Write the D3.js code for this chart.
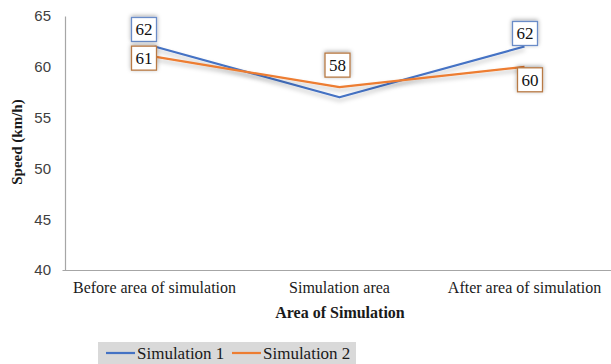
<!DOCTYPE html>
<html>
<head>
<meta charset="utf-8">
<script src="https://cdn.jsdelivr.net/npm/d3@7"></script>
<style>
  body { margin: 0; background: #fff; }
  svg { display: block; }
  .serif { font-family: "Liberation Serif", "Times New Roman", serif; }
  .sans { font-family: "Liberation Sans", Arial, sans-serif; }
</style>
</head>
<body>
<svg id="chart" width="611" height="364"></svg>
<script>
// data
var categories = ["Before area of simulation", "Simulation area", "After area of simulation"]
var sim1 = [62, 57, 62]
var sim2 = [61, 58, 60]
var yTicks = [40, 45, 50, 55, 60, 65]
var seriesNames = ["Simulation 1", "Simulation 2"]

var width = 611, height = 364
var svg = d3.select('#chart').attr("viewBox", [0, 0, width, height])

var colors = ["#4472c4", "#ed7d31"]
var boxColors = ["#6a8cc8", "#b87a45"]

var x = d3.scaleBand()
    .domain(categories)
    .range([62, 617])
var y = d3.scaleLinear()
    .domain([40, 65])
    .range([270, 16])
var cx = c => x(c) + x.bandwidth() / 2

// filters for the soft shadows
var defs = svg.append("defs")
defs.append("filter").attr("id", "lineShadow")
    .attr("x", "-10%").attr("y", "-50%").attr("width", "120%").attr("height", "200%")
    .append("feDropShadow")
    .attr("dx", 0).attr("dy", 3).attr("stdDeviation", 2)
    .attr("flood-color", "#000").attr("flood-opacity", 0.25)
defs.append("filter").attr("id", "boxShadow")
    .attr("x", "-50%").attr("y", "-50%").attr("width", "200%").attr("height", "200%")
    .append("feDropShadow")
    .attr("dx", 0).attr("dy", -1).attr("stdDeviation", 2)
    .attr("flood-color", "#000").attr("flood-opacity", 0.35)

// y axis
var yAxis = g => g
    .attr("transform", "translate(65,0)")
    .call(d3.axisLeft(y).tickValues(yTicks).tickSize(0).tickPadding(14))
    .attr("font-family", null)
    .call(g => g.select(".domain").attr("stroke", "#a6a6a6").attr("stroke-width", 1.2))
    .call(g => g.selectAll("text")
        .attr("class", "sans")
        .attr("font-size", 15)
        .attr("fill", "#404040"))
svg.append("g").call(yAxis)

// x axis
var xAxis = g => g
    .attr("transform", "translate(0,270)")
    .call(d3.axisBottom(x).tickSize(0).tickPadding(12).tickSizeOuter(0))
    .attr("font-family", null)
    .call(g => g.select(".domain").attr("stroke", "#a6a6a6").attr("stroke-width", 1.2))
    .call(g => g.selectAll("text")
        .attr("class", "serif")
        .attr("font-size", 16)
        .attr("fill", "#1a1a1a"))
svg.append("g").call(xAxis)

// axis titles
svg.append("text")
    .attr("class", "serif")
    .attr("transform", "translate(22,142) rotate(-90)")
    .attr("text-anchor", "middle")
    .attr("font-weight", "bold")
    .attr("font-size", 15)
    .attr("fill", "#1a1a1a")
    .text("Speed (km/h)")
svg.append("text")
    .attr("class", "serif")
    .attr("x", 340).attr("y", 318)
    .attr("text-anchor", "middle")
    .attr("font-weight", "bold")
    .attr("font-size", 16)
    .attr("fill", "#1a1a1a")
    .text("Area of Simulation")

// lines
var series = [{name: seriesNames[0], value: sim1}, {name: seriesNames[1], value: sim2}]
var line = d3.line()
    .x((d, i) => cx(categories[i]))
    .y(d => y(d))

svg.append("g")
    .attr("fill", "none")
    .attr("stroke-width", 2.2)
    .attr("stroke-linejoin", "round")
    .selectAll("path")
    .data(series)
    .join("path")
    .attr("filter", "url(#lineShadow)")
    .attr("d", d => line(d.value))
    .attr("stroke", (d, i) => colors[i])

// data labels: [series, category index, dx, dy]
var labelPos = [
    [0, 0, -10.5, -17],
    [1, 0, -10.5, 1.5],
    [1, 1, -2, -22],
    [0, 2, 0.5, -13],
    [1, 2, 5.5, 13]
]
var labels = svg.append("g")
labelPos.forEach(function(p){
    var s = p[0], i = p[1]
    var v = series[s].value[i]
    var px = cx(categories[i]) + p[2]
    var py = y(v) + p[3]
    var g = labels.append("g").attr("transform", `translate(${px},${py})`)
    g.append("rect")
        .attr("x", -12.5).attr("y", -12)
        .attr("width", 25).attr("height", 24)
        .attr("fill", "#fff")
        .attr("stroke", boxColors[s])
        .attr("stroke-width", 1.3)
        .attr("filter", "url(#boxShadow)")
    g.append("text")
        .attr("class", "serif")
        .attr("text-anchor", "middle")
        .attr("dy", "0.35em")
        .attr("font-size", 17)
        .attr("fill", "#111")
        .text(v)
})

// legend
var legend = svg.append("g")
legend.append("rect")
    .attr("x", 98).attr("y", 342)
    .attr("width", 258).attr("height", 24)
    .attr("fill", "#d9d9d9")
var legX = [106, 232]
seriesNames.forEach(function(n, i){
    legend.append("line")
        .attr("x1", legX[i]).attr("x2", legX[i] + 29)
        .attr("y1", 353).attr("y2", 353)
        .attr("stroke", colors[i])
        .attr("stroke-width", 2.2)
    legend.append("text")
        .attr("class", "serif")
        .attr("x", legX[i] + 31).attr("y", 359)
        .attr("font-size", 17)
        .attr("fill", "#1a1a1a")
        .text(n)
})
</script>
</body>
</html>
